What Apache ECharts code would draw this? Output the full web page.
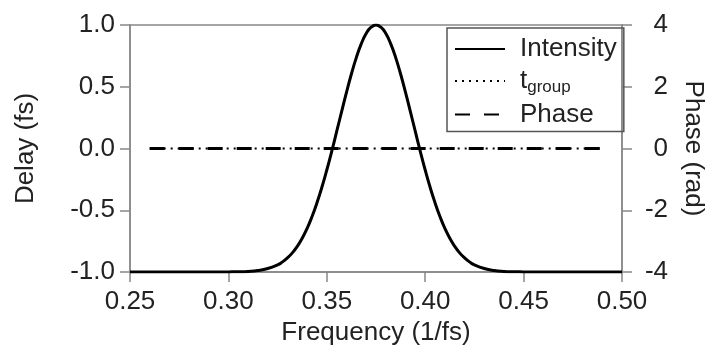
<!DOCTYPE html>
<html><head><meta charset="utf-8">
<script src="https://cdn.jsdelivr.net/npm/echarts@6/dist/echarts.min.js"></script>
<style>html,body{margin:0;padding:0;background:#fff}#c{width:714px;height:353px}</style>
</head><body><div id="c"></div>
<script>
// Data
var freq = [0.25,0.26,0.27,0.28,0.29,0.295,0.30,0.305,0.31,0.315,0.32,0.325,0.3275,0.33,0.3325,0.335,0.3375,0.34,0.3425,0.345,0.3475,0.35,0.3525,0.355,0.3575,0.36,0.3625,0.365,0.3675,0.37,0.3725,0.375,0.3775,0.38,0.3825,0.385,0.3875,0.39,0.3925,0.395,0.3975,0.40,0.4025,0.405,0.4075,0.41,0.4125,0.415,0.4175,0.42,0.4225,0.425,0.43,0.435,0.44,0.445,0.45,0.455,0.46,0.47,0.48,0.49,0.50];
var intensity = [-1,-1,-1,-1,-1,-1,-0.999,-0.998,-0.995,-0.988,-0.972,-0.942,-0.918,-0.886,-0.845,-0.792,-0.726,-0.647,-0.551,-0.440,-0.314,-0.174,-0.023,0.136,0.297,0.455,0.603,0.736,0.847,0.931,0.982,1.000,0.982,0.931,0.847,0.736,0.603,0.455,0.297,0.136,-0.023,-0.174,-0.314,-0.440,-0.551,-0.647,-0.726,-0.792,-0.845,-0.886,-0.918,-0.942,-0.972,-0.988,-0.995,-0.998,-0.999,-1,-1,-1,-1,-1,-1];
var delayFreq = [0.26, 0.49];
var delay = [0, 0];
var phaseFreq = [0.26, 0.49];
var phase = [0, 0];
var seriesNames = ['Intensity', 't_group', 'Phase'];
var xTicks = {min: 0.25, max: 0.50, step: 0.05};
var yLeftTicks = {min: -1, max: 1, step: 0.5};
var yRightTicks = {min: -4, max: 4, step: 2};

function pairs(xs, ys){ return xs.map(function(x,i){ return [x, ys[i]]; }); }

var chart = echarts.init(document.getElementById('c'), null, {renderer:'canvas'});
var txt = '#222';
var axCol = '#888';
var fs = 26;
var font = 'Liberation Sans, Arial, sans-serif';
chart.setOption({
  animation: false,
  textStyle: {fontFamily: font},
  grid: {left: 130, right: 85, top: 25, bottom: 81, show: true, borderColor: axCol, borderWidth: 1.5, containLabel: false},
  legend: {
    orient: 'vertical', left: 447, top: 28,
    data: seriesNames,
    itemWidth: 50, itemHeight: 26, itemGap: 6,
    padding: [8, 7, 4, 7],
    borderColor: '#555', borderWidth: 1.5,
    itemStyle: {opacity: 0},
    textStyle: {fontSize: fs, color: txt, fontFamily: font, padding: [0,0,0,10],
      rich: {b: {fontSize: 17, color: txt, fontFamily: font, padding: [12,0,0,0]}}},
    formatter: function(n){ return n === 't_group' ? 't{b|group}' : n; }
  },
  xAxis: {
    type: 'value', min: xTicks.min, max: xTicks.max, interval: xTicks.step,
    name: 'Frequency (1/fs)', nameLocation: 'middle', nameGap: 46,
    nameTextStyle: {fontSize: fs, color: txt, fontFamily: font},
    axisLine: {onZero: false, lineStyle: {color: axCol, width: 1.5}},
    axisTick: {inside: false, length: 10, lineStyle: {color: axCol, width: 1.5}},
    axisLabel: {fontSize: fs, color: txt, margin: 17, formatter: function(v){ return v.toFixed(2); }},
    splitLine: {show: false}
  },
  yAxis: [{
    type: 'value', min: yLeftTicks.min, max: yLeftTicks.max, interval: yLeftTicks.step,
    name: 'Delay (fs)', nameLocation: 'middle', nameGap: 91,
    nameTextStyle: {fontSize: fs, color: txt, fontFamily: font},
    axisLine: {onZero: false, lineStyle: {color: axCol, width: 1.5}},
    axisTick: {length: 10, lineStyle: {color: axCol, width: 1.5}},
    axisLabel: {fontSize: fs, color: txt, margin: 15, formatter: function(v){ return v.toFixed(1); }},
    splitLine: {show: false}
  }, {
    type: 'value', min: yRightTicks.min, max: yRightTicks.max, interval: yRightTicks.step, position: 'right',
    name: 'Phase (rad)', nameLocation: 'middle', nameGap: 58, nameRotate: -90,
    nameTextStyle: {fontSize: fs, color: txt, fontFamily: font},
    axisLine: {show: true, onZero: false, lineStyle: {color: axCol, width: 1.5}},
    axisTick: {show: true, length: 10, lineStyle: {color: axCol, width: 1.5}},
    axisLabel: {fontSize: fs, color: txt, margin: 46, align: 'right'},
    splitLine: {show: false}
  }],
  series: [{
    name: 'Intensity', type: 'line', yAxisIndex: 0, data: pairs(freq, intensity),
    symbol: 'none', smooth: true, lineStyle: {color: '#000', width: 3}, itemStyle: {color: '#000'}
  }, {
    name: 't_group', type: 'line', yAxisIndex: 0, data: pairs(delayFreq, delay),
    symbol: 'none', lineStyle: {color: '#000', width: 2, type: [2, 5]}, itemStyle: {color: '#000'}
  }, {
    name: 'Phase', type: 'line', yAxisIndex: 1, data: pairs(phaseFreq, phase),
    symbol: 'none', lineStyle: {color: '#000', width: 3, type: [15, 14]}, itemStyle: {color: '#000'}
  }]
});
</script></body></html>
